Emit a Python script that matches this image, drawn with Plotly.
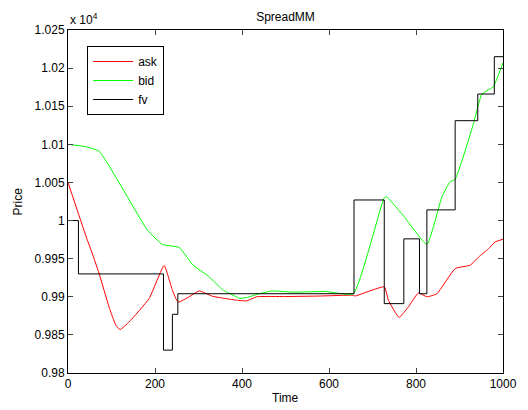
import plotly.graph_objects as go

# ---- data (prices) ----
ask_t = [0, 24, 44.6, 52, 71.5, 94.4, 110, 119.7, 140.5, 186.5, 221, 240, 253, 278.5, 301.5, 332,
         353, 387.5, 410.6, 433.6, 500, 580, 656, 660, 727, 736.5, 761, 782.5, 805.5, 825, 848,
         890, 924.5, 943.6, 966.6, 982, 1000]
ask_p = [10050, 10009, 9974, 9963, 9930.5, 9886.7, 9862.6, 9857, 9867, 9897.7, 9941, 9908.6, 9893,
         9900, 9907.7, 9900.7, 9898.5, 9895.5, 9894.6, 9900, 9900.3, 9901, 9902, 9901, 9913, 9895.5,
         9873, 9886.7, 9905, 9900, 9904, 9937, 9941.4, 9952, 9963, 9972, 9975.5]

bid_t = [0, 40, 71.5, 182.7, 217, 255.5, 287.7, 322, 356.7, 364.5, 395, 410.6, 433.6, 468, 518, 591,
         656, 727, 733, 740, 773, 825, 859.5, 878.5, 890, 932, 951, 970.6, 978, 1000]
bid_p = [10100, 10097, 10091, 9987.4, 9968.6, 9964.7, 9941.4, 9927.4, 9908.6, 9906.4, 9898, 9899,
         9903, 9907.7, 9906, 9907, 9904, 10030, 10031, 10027, 10005, 9968.6, 10031, 10051, 10054,
         10127, 10165.5, 10173, 10175.5, 10207]

fv_t = [0, 24, 219.5, 240, 252.5, 657.5, 727, 772, 808, 825, 890, 942, 980, 1000]
fv_p = [10000, 9930, 9830, 9877, 9904, 10027, 9891, 9976, 9904, 10014, 10131, 10166, 10215, 10215]

y_ticks = [0.98, 0.985, 0.99, 0.995, 1.0, 1.005, 1.01, 1.015, 1.02, 1.025]
y_tick_text = ["0.98", "0.985", "0.99", "0.995", "1", "1.005", "1.01", "1.015", "1.02", "1.025"]
x_ticks = [0, 200, 400, 600, 800, 1000]

SCALE = 1e4

fig = go.Figure()
fig.add_trace(go.Scatter(x=ask_t, y=[p / SCALE for p in ask_p], mode="lines", name="ask",
                         line=dict(color="#ff0000", width=1, shape="spline", smoothing=0.4)))
fig.add_trace(go.Scatter(x=bid_t, y=[p / SCALE for p in bid_p], mode="lines", name="bid",
                         line=dict(color="#00ff00", width=1, shape="spline", smoothing=0.4)))
fig.add_trace(go.Scatter(x=fv_t, y=[p / SCALE for p in fv_p], mode="lines", name="fv",
                         line=dict(color="#000000", width=1, shape="hv")))

font = "Liberation Sans, Arial, sans-serif"
# page body has an 8px margin, so the figure is 8px smaller than the window
W, H = 520, 402
ML, MR, MT, MB = 60, 25, 22, 37
plot_h = H - MT - MB
plot_w = W - ML - MR

fig.update_layout(
    width=W, height=H,
    margin=dict(l=ML, r=MR, t=MT, b=MB),
    paper_bgcolor="white", plot_bgcolor="white",
    font=dict(family=font, size=12, color="black"),
    title=dict(text="SpreadMM", x=0.5, xref="paper", y=1 - 9 / H, yref="container",
               xanchor="center", yanchor="middle", font=dict(size=12)),
    showlegend=True,
    legend=dict(x=0.044, y=1 - 16 / plot_h, xanchor="left", yanchor="top",
                bordercolor="black", borderwidth=1, bgcolor="white",
                font=dict(size=12), tracegroupgap=0, itemwidth=40),
    xaxis=dict(range=[0, 1000], tickvals=x_ticks, ticks="inside", ticklen=5,
               showline=True, linecolor="black", linewidth=1, mirror="ticks",
               showgrid=False, zeroline=False, automargin=False),
    yaxis=dict(range=[0.98, 1.025], tickvals=y_ticks, ticktext=y_tick_text,
               ticks="inside", ticklen=5,
               showline=True, linecolor="black", linewidth=1, mirror="ticks",
               showgrid=False, zeroline=False, automargin=False),
    annotations=[
        dict(text="x 10<sup>4</sup>", xref="paper", yref="paper", x=0, y=1,
             xanchor="left", yanchor="bottom", showarrow=False,
             font=dict(size=12), yshift=1),
        dict(text="Time", xref="paper", yref="paper", x=0.5, y=-(390 - (H - MB)) / plot_h,
             xanchor="center", yanchor="middle", showarrow=False, font=dict(size=12)),
        dict(text="Price", xref="paper", yref="paper", x=-(ML - 9) / plot_w, y=0.5,
             xanchor="center", yanchor="middle", showarrow=False, textangle=-90,
             font=dict(size=12)),
    ],
)

fig.write_html("out.html")
